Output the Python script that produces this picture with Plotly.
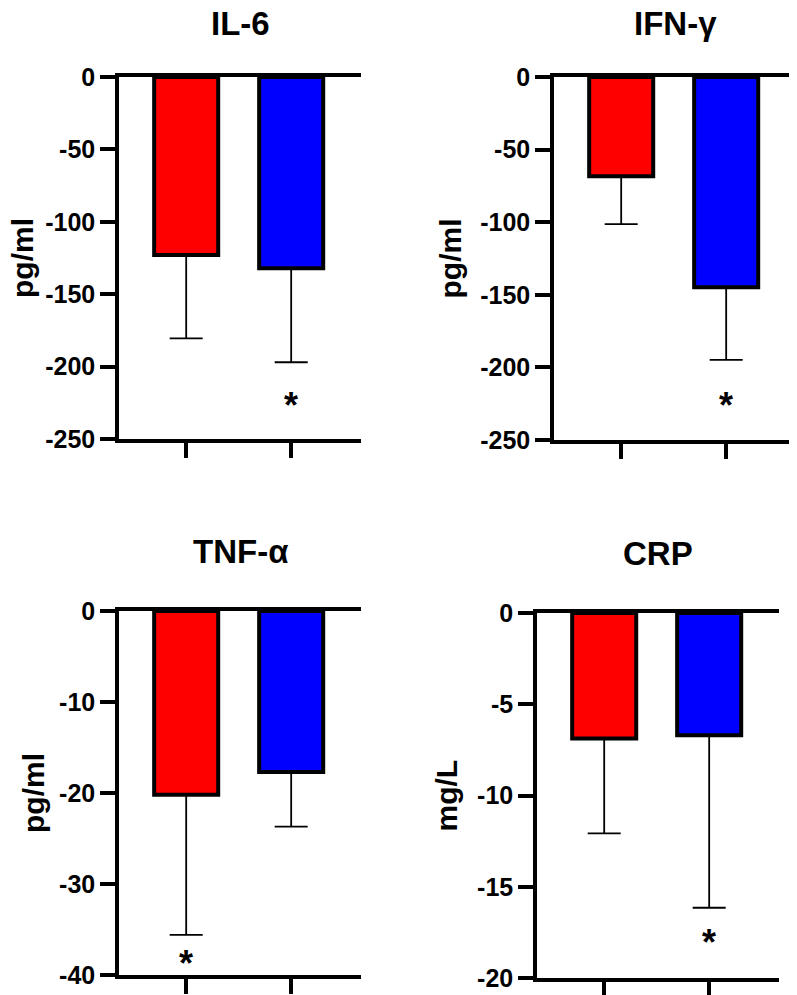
import plotly.graph_objects as go

# data
panels = ['IL-6', 'IFN-γ', 'TNF-α', 'CRP']
units = ['pg/ml', 'pg/ml', 'pg/ml', 'mg/L']
groups = [0, 1]
colors = ['#ff0000', '#0000ff']

red_mean = [-123, -68.3, -20.2, -6.87]
red_err = [57.5, 33.0, 15.4, 5.2]
blue_mean = [-132, -144.8, -17.7, -6.7]
blue_err = [65.0, 50.0, 6.0, 9.45]

# asterisk: which bar (0 red / 1 blue) and its height
star_bar = [1, 1, 0, 1]
star_y = [-221, -221, -37.9, -17.6]

y_min = [-250, -250, -40, -20]
y_step = [50, 50, 10, 5]

# the page body adds an 8px margin, so the figure is drawn 8px smaller
OFF = 8
W, H = 797 - OFF, 995 - OFF
# panel boxes in window pixels: left, top, bottom
boxes = [(119, 77, 439), (554, 77, 440), (119, 611, 975), (537, 613, 978)]
box_w = 242
label_shift = [-97, -104, -86, -91]
title_shift = [54, 54, 60, 60]

FONT = 'Liberation Sans, Arial, sans-serif'

fig = go.Figure()
layout = dict(width=W, height=H, template='none',
              margin=dict(l=0, r=0, t=0, b=0, pad=0, autoexpand=False),
              paper_bgcolor='white', plot_bgcolor='white', showlegend=False,
              font=dict(family=FONT, color='black'))
annotations = []

for i, name in enumerate(panels):
    n = '' if i == 0 else str(i + 1)
    left, top, bottom = [v - OFF for v in boxes[i]]
    xd = [left / W, min((left + box_w) / W, 1)]
    yd = [1 - bottom / H, 1 - top / H]

    fig.add_trace(go.Bar(
        x=groups, y=[red_mean[i], blue_mean[i]],
        xaxis='x' + n, yaxis='y' + n, width=0.61,
        marker=dict(color=colors, line=dict(color='black', width=4)),
        error_y=dict(type='data', symmetric=False, array=[0, 0],
                     arrayminus=[red_err[i], blue_err[i]],
                     color='black', thickness=1.8, width=16.5),
    ))

    tickvals = list(range(y_min[i], 1, y_step[i]))
    ticktext = [str(v) for v in tickvals]

    layout['xaxis' + n] = dict(domain=xd, anchor='y' + n, range=[-0.64, 1.665],
                               showline=True, mirror=True, linecolor='black', linewidth=3.5,
                               ticks='outside', ticklen=15, tickwidth=3.5, tickcolor='black',
                               tickvals=groups, showticklabels=False, automargin=False,
                               showgrid=False, zeroline=False, fixedrange=True)
    layout['yaxis' + n] = dict(domain=yd, anchor='x' + n, range=[y_min[i], 0],
                               showline=True, linecolor='black', linewidth=3.5,
                               ticks='outside', ticklen=15, tickwidth=3.5, tickcolor='black',
                               tickvals=tickvals, ticktext=ticktext, automargin=False,
                               tickfont=dict(size=25, weight='bold', family=FONT, color='black'),
                               showgrid=False, zeroline=False, fixedrange=True)

    # panel title
    annotations.append(dict(text=name, xref='x' + n + ' domain', yref='y' + n + ' domain',
                            x=0.5, y=1, yshift=title_shift[i], xanchor='center', yanchor='middle',
                            showarrow=False,
                            font=dict(size=33, weight='bold', family=FONT, color='black')))
    # y axis label
    annotations.append(dict(text=units[i], xref='x' + n + ' domain', yref='y' + n + ' domain',
                            x=0, y=0.5, xshift=label_shift[i], textangle=-90,
                            xanchor='center', yanchor='middle', showarrow=False,
                            font=dict(size=30, weight='bold', family=FONT, color='black')))
    # significance star
    annotations.append(dict(text='*', xref='x' + n, yref='y' + n,
                            x=groups[star_bar[i]], y=star_y[i], yshift=-8,
                            xanchor='center', yanchor='middle', showarrow=False,
                            font=dict(size=36, weight='bold', family=FONT, color='black')))

layout['annotations'] = annotations
fig.update_layout(**layout)
fig.write_html('out.html')
